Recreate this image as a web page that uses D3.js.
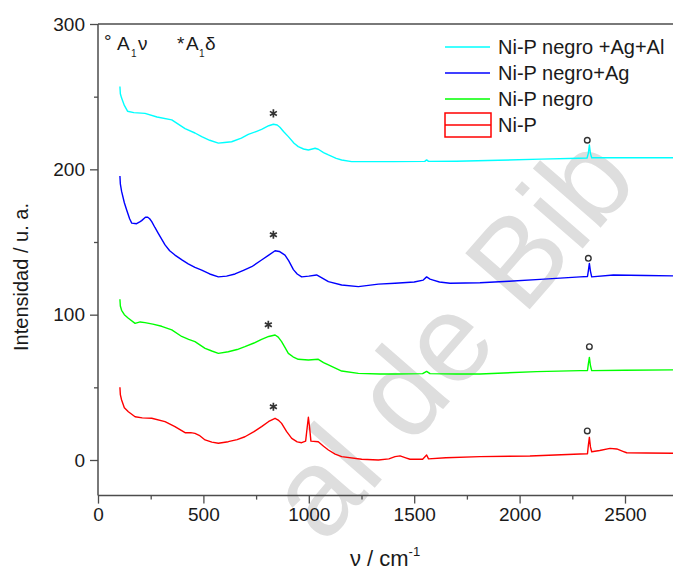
<!DOCTYPE html>
<html><head><meta charset="utf-8">
<script src="https://cdn.jsdelivr.net/npm/d3@7"></script>
<style>body{margin:0;background:#fff}svg{display:block;font-family:"Liberation Sans",Arial,sans-serif}</style>
</head><body><svg id="c" width="673" height="571"></svg>
<script>
// ---- data ----
const seriesNames = ["Ni-P negro +Ag+Al", "Ni-P negro+Ag", "Ni-P negro", "Ni-P"];
const seriesColors = ["#00ffff", "#0000ff", "#00ff00", "#ff0000"];
const cyanData = [[104,257],[106,252],[112,249],[125,244],[140,240],[170,239],[223,238.5],[280,236],[350,234],[413,228],[460,225],[492,222.5],[530,220],[571,218],[600,218.5],[634,219],[680,221.5],[713,224],[750,226],[776,227.5],[810,230],[832,231],[850,230.5],[863,229],[880,226],[903,222.5],[930,218],[950,215.6],[975,214],[998,213.3],[1030,214.5],[1045,213.8],[1070,211.5],[1093,209.9],[1130,207.5],[1156,206.4],[1203,205.3],[1300,205.3],[1400,205.3],[1550,205.5],[1559,206.5],[1568,205.5],[1700,205.6],[1900,206.2],[2100,207],[2280,207.6],[2320,207.8],[2326,211],[2331,216.7],[2336,211],[2342,208],[2450,208],[2600,208],[2750,208]];
const blueData = [[104,195.4],[106,190],[112,184.8],[125,177],[136,172],[150,166],[160,163],[183,162.6],[200,164],[207,164.7],[225,167],[236,167],[245,166],[255,164],[270,160],[286,156],[318,148],[340,144],[365,141],[400,137.5],[428,135],[460,132.5],[492,130.7],[530,128],[571,126],[610,126.5],[650,128],[690,130.5],[729,133],[776,137.6],[810,141],[840,144],[860,143.5],[887,141],[905,137],[927,131],[945,128],[966,126],[1000,126.5],[1037,127.3],[1060,125.5],[1093,122.7],[1156,120.4],[1235,119.3],[1330,121],[1409,121.6],[1500,122.5],[1543,123.8],[1559,126],[1575,124.5],[1590,123.8],[1620,122.5],[1670,121.6],[1812,122],[1950,123],[2097,124.3],[2287,126],[2322,126.3],[2326,130],[2331,135.3],[2336,130],[2342,126],[2445,127.3],[2600,127],[2750,126.6]];
const greenData = [[104,110.6],[106,106],[112,103],[125,100],[144,97.5],[176,94],[200,95],[223,94.5],[260,93.5],[302,92],[350,89.5],[397,85],[430,83],[460,81.4],[508,76.8],[540,75],[571,73.4],[618,74.5],[660,76],[697,78],[740,80.5],[776,83],[810,85],[840,86],[855,84.5],[871,81.4],[903,73.4],[925,71],[950,69.3],[998,68.8],[1045,69.3],[1070,67],[1093,65.4],[1156,61.2],[1235,59.6],[1338,59.2],[1409,59.2],[1540,59.4],[1559,61],[1575,59.4],[1700,59.2],[1812,59.2],[2081,60.8],[2287,61.5],[2322,61.6],[2326,66],[2331,70.6],[2336,65],[2342,61.5],[2500,61.8],[2750,62]];
const redData = [[104,50],[106,45],[112,41.3],[125,36],[144,33.2],[176,29.8],[210,29],[255,28.7],[318,26.4],[365,23],[413,18.8],[440,18.8],[460,18.3],[480,17],[508,13.8],[540,12.3],[571,11.5],[618,12.6],[660,14],[697,16],[740,19.5],[776,23],[810,26.5],[840,28.7],[855,27.5],[871,25.2],[895,19.5],[919,14.9],[945,12.5],[966,11.9],[985,13],[992,22],[998,29.4],[1004,22],[1010,13],[1045,12.6],[1070,9.5],[1093,6.9],[1125,4],[1156,2.3],[1251,0.5],[1330,0],[1380,0.8],[1409,2.3],[1433,2.8],[1460,1.5],[1480,0.5],[1540,0.5],[1559,3.4],[1568,0.8],[1650,1.5],[1812,2.3],[2049,2.8],[2287,4.1],[2322,4.3],[2326,10],[2331,15.6],[2336,9],[2342,5.7],[2380,6.5],[2429,8],[2461,7.6],[2490,6],[2508,5],[2600,4.8],[2750,4.6]];
const starMarks = [[832,238.5],[832,155],[808,93],[832,36.7]];
const circleMarks = [[2321,220],[2326,138.8],[2331,78],[2321,20]];
const xTicks = [0,500,1000,1500,2000,2500];
const xMinor = [250,750,1250,1750,2250,2750];
const yTicks = [0,100,200,300];
const yMinor = [50,150,250];
const xTitle = "ν / cm";
const yTitle = "Intensidad / u. a.";
const watermark = "al de Bib";

// ---- layout ----
const svg = d3.select("#c");
const W = 673, H = 571;
const x = d3.scaleLinear().domain([0,2500]).range([98,625]);
const y = d3.scaleLinear().domain([0,300]).range([460,24]);
const yBottom = y(-24.5);
const axisColor = "#4d4d4d";
const txt = "#1a1a1a";

// watermark
svg.append("text").attr("transform","translate(324,546) rotate(-49)")
  .attr("font-size",124).attr("fill","#dedede").attr("font-family","Liberation Sans, Arial, sans-serif")
  .text(watermark);

svg.append("defs").append("clipPath").attr("id","clip")
  .append("rect").attr("x",98).attr("y",0).attr("width",W-98).attr("height",yBottom);

// axes
const fmt = d3.format("d");
const gx = svg.append("g").attr("transform",`translate(0,${yBottom})`);
gx.call(d3.axisBottom(x).tickValues(xTicks).tickFormat(fmt).tickSize(8).tickPadding(4).tickSizeOuter(0));
gx.append("g").call(d3.axisBottom(x).tickValues(xMinor).tickSize(4).tickFormat("").tickSizeOuter(0));
const gy = svg.append("g").attr("transform","translate(98,0)");
gy.call(d3.axisLeft(y).tickValues(yTicks).tickFormat(fmt).tickSize(8).tickPadding(5).tickSizeOuter(0));
gy.append("g").call(d3.axisLeft(y).tickValues(yMinor).tickSize(4).tickFormat("").tickSizeOuter(0));
svg.selectAll(".domain").remove();
svg.append("line").attr("x1",98).attr("x2",98).attr("y1",y(300)).attr("y2",yBottom);
svg.append("line").attr("x1",98).attr("x2",W).attr("y1",yBottom).attr("y2",yBottom);
svg.append("line").attr("x1",98).attr("x2",W).attr("y1",y(300)).attr("y2",y(300));
svg.selectAll("line").attr("stroke",axisColor).attr("stroke-width",1.5);
svg.selectAll(".tick line").attr("stroke",axisColor).attr("stroke-width",1.3);
svg.selectAll(".tick text").attr("font-size",19).attr("fill",txt).attr("font-family","Liberation Sans, Arial, sans-serif");

// titles
const xt = svg.append("text").attr("x",385).attr("y",566).attr("text-anchor","middle")
  .attr("font-size",22).attr("fill",txt);
xt.append("tspan").text(xTitle);
xt.append("tspan").attr("dy",-10).attr("font-size",13).text("-1");
svg.append("text").attr("transform","translate(28,277) rotate(-90)").attr("text-anchor","middle")
  .attr("font-size",20).attr("fill",txt).text(yTitle);

// lines
const line = d3.line().x(d=>x(d[0])).y(d=>y(d[1]));
const allData = [cyanData, blueData, greenData, redData];
const gl = svg.append("g").attr("clip-path","url(#clip)");
allData.forEach((d,i)=>{
  gl.append("path").datum(d).attr("d",line).attr("fill","none")
    .attr("stroke",seriesColors[i]).attr("stroke-width",1.4).attr("stroke-linejoin","round");
});

// markers
const star = d3.symbol(d3.symbolAsterisk, 45);
svg.selectAll(".star").data(starMarks).join("path").attr("class","star")
  .attr("transform",d=>`translate(${x(d[0])},${y(d[1])})`).attr("d",star)
  .attr("fill","none").attr("stroke","#333").attr("stroke-width",1.7);
svg.selectAll(".circ").data(circleMarks).join("circle").attr("class","circ")
  .attr("cx",d=>x(d[0])).attr("cy",d=>y(d[1])).attr("r",2.8)
  .attr("fill","none").attr("stroke","#333").attr("stroke-width",1.4);

// annotation
const an = svg.append("g").attr("fill",txt).attr("font-size",19);
an.append("text").attr("x",104).attr("y",48).text("°");
an.append("text").attr("x",117).attr("y",50).text("A");
an.append("text").attr("x",131).attr("y",57).attr("font-size",10).text("1");
an.append("text").attr("x",138).attr("y",50).text("ν");
an.append("text").attr("x",177).attr("y",50).text("*");
an.append("text").attr("x",186).attr("y",50).text("A");
an.append("text").attr("x",199).attr("y",57).attr("font-size",10).text("1");
an.append("text").attr("x",205).attr("y",50).text("δ");

// legend
const lg = svg.append("g");
const legY = [47,73,99,125];
seriesNames.forEach((n,i)=>{
  if(i<3){
    lg.append("line").attr("x1",445).attr("x2",490).attr("y1",legY[i]).attr("y2",legY[i])
      .attr("stroke",seriesColors[i]).attr("stroke-width",1.5);
  } else {
    lg.append("rect").attr("x",445).attr("y",113).attr("width",46).attr("height",24)
      .attr("fill","none").attr("stroke",seriesColors[i]).attr("stroke-width",1.5);
    lg.append("line").attr("x1",445).attr("x2",491).attr("y1",125).attr("y2",125)
      .attr("stroke",seriesColors[i]).attr("stroke-width",1.5);
  }
  lg.append("text").attr("x",498).attr("y",legY[i]+7).attr("font-size",20).attr("fill",txt).text(n);
});
</script></body></html>
